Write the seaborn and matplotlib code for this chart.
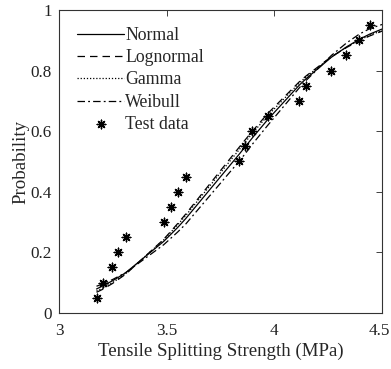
import matplotlib
matplotlib.use("Agg")
import matplotlib.pyplot as plt
import matplotlib.transforms as mtransforms
import seaborn as sns
import pandas as pd

# Test data
test_x = [3.174, 3.203, 3.248, 3.272, 3.31, 3.486, 3.52, 3.551, 3.588, 3.838,
          3.863, 3.897, 3.969, 4.116, 4.147, 4.265, 4.335, 4.394, 4.442]
test_p = [0.05, 0.10, 0.15, 0.20, 0.25, 0.30, 0.35, 0.40, 0.45, 0.50,
          0.55, 0.60, 0.65, 0.70, 0.75, 0.80, 0.85, 0.90, 0.95]

# Fitted CDF curves
curve_x = [3.174, 3.203, 3.248, 3.272, 3.31, 3.486, 3.52, 3.551, 3.588, 3.838,
           3.863, 3.897, 3.969, 4.116, 4.147, 4.265, 4.335, 4.394, 4.442, 4.5]
normal_p = [0.079, 0.089, 0.106, 0.116, 0.133, 0.236, 0.260, 0.282, 0.311, 0.525,
            0.547, 0.577, 0.638, 0.752, 0.773, 0.844, 0.878, 0.903, 0.920, 0.937]
lognormal_p = [0.068, 0.078, 0.097, 0.109, 0.128, 0.243, 0.270, 0.295, 0.326, 0.548,
               0.570, 0.599, 0.658, 0.763, 0.782, 0.846, 0.876, 0.898, 0.914, 0.930]
gamma_p = [0.072, 0.082, 0.100, 0.111, 0.130, 0.241, 0.267, 0.291, 0.321, 0.540,
           0.562, 0.592, 0.651, 0.759, 0.779, 0.845, 0.877, 0.900, 0.916, 0.932]
weibull_p = [0.088, 0.096, 0.110, 0.119, 0.133, 0.225, 0.247, 0.267, 0.293, 0.502,
             0.524, 0.556, 0.619, 0.743, 0.767, 0.850, 0.891, 0.920, 0.938, 0.952]

series_names = ["Normal", "Lognormal", "Gamma", "Weibull"]
x_ticks = [3, 3.5, 4, 4.5]
x_tick_labels = ["3", "3.5", "4", "4.5"]
y_ticks = [0, 0.2, 0.4, 0.6, 0.8, 1]
y_tick_labels = ["0", "0.2", "0.4", "0.6", "0.8", "1"]

sns.set_style("white")
plt.rcParams["font.family"] = ["Liberation Serif", "DejaVu Serif"]
plt.rcParams["font.size"] = 12

fig = plt.figure(figsize=(3.91, 3.69), dpi=100)
ax = fig.add_axes([0.151, 0.152, 0.826, 0.821])

curves = pd.DataFrame({
    "x": curve_x * 4,
    "p": normal_p + lognormal_p + gamma_p + weibull_p,
    "dist": sum([[n] * len(curve_x) for n in series_names], []),
})
styles = {"Normal": (None, None), "Lognormal": (6, 4), "Gamma": (1, 1.5),
          "Weibull": (6, 2.5, 1.5, 2.5)}
for name in series_names:
    d = curves[curves["dist"] == name]
    dash = styles[name]
    kw = {}
    if dash[0] is None:
        kw["linestyle"] = "-"
    sns.lineplot(data=d, x="x", y="p", ax=ax, color="black", linewidth=0.9,
                 label=name, estimator=None, sort=False, **kw)
    if dash[0] is not None:
        ax.lines[-1].set_dashes(dash)

sns.scatterplot(x=test_x, y=test_p, ax=ax, marker=(8, 2, 0), s=38,
                color="black", linewidth=1.0, edgecolor="black", label="Test data")

ax.set_xlim(3, 4.5)
ax.set_ylim(0, 1)
ax.set_xticks(x_ticks)
ax.set_xticklabels(x_tick_labels)
ax.set_yticks(y_ticks)
ax.set_yticklabels(y_tick_labels)
ax.set_xlabel("Tensile Splitting Strength (MPa)", fontsize=13.6, labelpad=3)
ax.set_ylabel("Probability", fontsize=13.6, labelpad=1)
ax.tick_params(direction="in", length=4, width=0.6, top=True, right=True,
               labelsize=12.3, colors="#222222", pad=5)
ax.tick_params(axis="x", pad=7)
# keep the last x tick label inside the figure
last = ax.get_xticklabels()[-1]
last.set_transform(last.get_transform() +
                   mtransforms.ScaledTranslation(-2 / 72, 0, fig.dpi_scale_trans))
for sp in ax.spines.values():
    sp.set_visible(True)
    sp.set_linewidth(0.8)
    sp.set_color("#333333")

leg = ax.legend(loc="upper left", frameon=False, handlelength=2.6,
                handletextpad=0.1, labelspacing=0.3, fontsize=12.8,
                borderaxespad=0.0, bbox_to_anchor=(0.035, 0.968))

fig.savefig("out.png", dpi=100)
